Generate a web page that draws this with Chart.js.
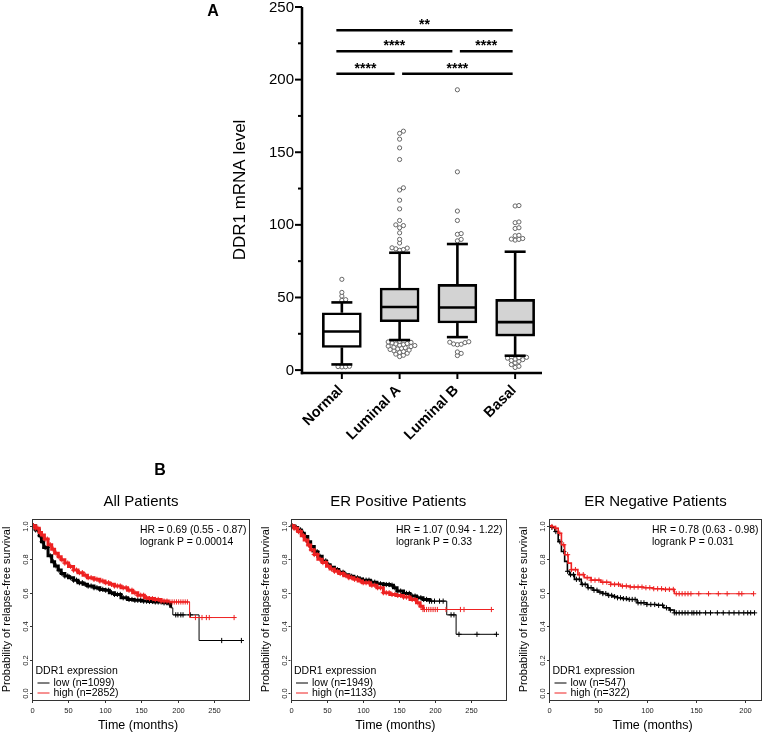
<!DOCTYPE html>
<html><head><meta charset="utf-8">
<script src="https://cdn.jsdelivr.net/npm/chart.js@4/dist/chart.umd.min.js"></script>
<style>
html,body{margin:0;padding:0;background:#fff;}
#wrap{position:relative;width:767px;height:732px;overflow:hidden;background:#fff;}
canvas{position:absolute;}
</style></head><body>
<div id="wrap">
<canvas id="cA" width="767" height="480" style="left:0;top:0;width:767px;height:480px"></canvas>
<canvas id="c1" width="255" height="252" style="left:0;top:480px;width:255px;height:252px"></canvas>
<canvas id="c2" width="256" height="252" style="left:255px;top:480px;width:256px;height:252px"></canvas>
<canvas id="c3" width="256" height="252" style="left:511px;top:480px;width:256px;height:252px"></canvas>
</div>
<script>
// ---------------- Panel A data ----------------
const categories = ['Normal', 'Luminal A', 'Luminal B', 'Basal'];
const boxMin    = [3.9, 20.7, 22.7, 9.9];
const boxQ1     = [15.6, 33.3, 32.4, 23.4];
const boxMedian = [26.6, 43.4, 43.1, 33.0];
const boxQ3     = [39.5, 56.5, 59.0, 48.7];
const boxMax    = [46.6, 80.8, 86.8, 81.5];
const outNormal = [2.2, 2.4, 2.6, 2.3, 48, 48.5, 51, 53.5, 62.5];
const outLumA   = [19.8,19.4,19.1,18.7,18.3,18,17.6,17.2,16.9,16.5,16.2,15.8,15.4,15,14.6,14.2,13.8,13.3,12.8,12.2,11.6,11,10.2,9.3,
                   82.5,83,83.5,84,84.2,87.5,90,94.5,98,99.5,100,103,111,117,124,125.5,145,153,159,163,164.5];
const outLumB   = [19.5,19.2,18.9,18,17.8,17.5,12.5,11.5,10, 89,90,93.5,94,103,109.5,136.5,193];
const outBasal  = [8.8,8.5,8.2,7.6,7.2,6.6,6,5,3.8,2.6,1.8, 89.5,90,90.2,90.6,92.5,92.8,97.5,98,101.5,102,113,113.3];
const yTicksA = [0, 50, 100, 150, 200, 250];
const yMinorTicksA = [25, 75, 125, 175, 225];
const sigFrom   = [0, 1, 0, 2, 0];
const sigTo     = [1, 3, 2, 3, 3];
const sigLabels = ['****', '****', '****', '****', '**'];
const sigLevel  = [204, 204, 219.5, 219.5, 234];

// ---------------- Panel B data ----------------
const survTicks = [0, 0.2, 0.4, 0.6, 0.8, 1.0];
const timeTicks300 = [0, 50, 100, 150, 200, 250];
const timeTicks200 = [0, 50, 100, 150, 200];

// All patients
const allLowT = [0,5,10,13,16,22,27,31,36,40,45,50,57,63,70,76,85,93,100,106,113,122,131,140,150,160,168,180,186,190,193,229,287];
const allLowS = [1.0,0.975,0.94,0.905,0.87,0.82,0.785,0.76,0.735,0.715,0.70,0.69,0.675,0.66,0.65,0.64,0.63,0.62,0.615,0.60,0.59,0.57,0.56,0.555,0.55,0.548,0.545,0.54,0.537,0.51,0.468,0.315,0.315];
const allLowCens = [2,5,8,11,14,18,21,25,29,33,37,41,45,49,53,57,61,65,69,73,77,81,85,89,93,97,101,105,109,113,117,121,125,129,133,137,141,145,149,153,157,161,165,169,173,177,181,185,188,197,200,204,207,217,260,287];
const allHighT = [0,5,10,13,17,22,27,31,36,40,45,50,57,63,70,76,85,93,100,106,113,122,131,138,145,154,160,168,177,186,216,279];
const allHighS = [1.0,0.985,0.96,0.945,0.92,0.886,0.86,0.836,0.815,0.797,0.777,0.757,0.735,0.72,0.705,0.69,0.68,0.67,0.66,0.65,0.64,0.63,0.615,0.60,0.585,0.57,0.565,0.56,0.55,0.545,0.452,0.452];
const allHighCens = [2,5,8,11,14,18,21,25,29,33,37,41,45,49,53,57,61,65,69,73,77,81,85,89,93,97,101,105,109,113,117,121,125,129,133,137,141,145,149,153,157,161,165,169,173,177,181,185,189,192,195,198,201,204,207,210,213,224,233,239,243,277];

// ER positive
const posLowT = [0,5,10,15,19,24,28,33,38,44,50,55,61,67,74,81,88,94,100,111,120,129,138,143,148,157,166,175,184,193,217,230,287];
const posLowS = [1.0,0.99,0.975,0.955,0.935,0.905,0.876,0.845,0.817,0.79,0.767,0.752,0.738,0.722,0.708,0.698,0.689,0.682,0.675,0.663,0.653,0.649,0.645,0.63,0.61,0.596,0.58,0.57,0.56,0.55,0.468,0.352,0.352];
const posLowCens = [2,5,8,11,14,18,21,25,29,33,37,41,45,49,53,57,61,65,69,73,77,81,85,89,93,97,101,105,109,113,117,121,125,129,133,137,141,145,149,153,157,161,165,169,173,177,181,185,189,193,196,200,207,212,223,227,234,259,286];
const posHighT = [0,5,10,15,19,24,28,33,38,44,50,55,61,67,74,81,88,94,100,111,120,129,138,147,157,166,175,180,184,279];
const posHighS = [1.0,0.985,0.965,0.94,0.915,0.885,0.856,0.828,0.80,0.78,0.758,0.742,0.728,0.715,0.702,0.69,0.68,0.67,0.66,0.645,0.63,0.60,0.59,0.584,0.574,0.56,0.54,0.52,0.50,0.50];
const posHighCens = [2,5,8,11,14,18,21,25,29,33,37,41,45,49,53,57,61,65,69,73,77,81,85,89,93,97,101,105,109,113,117,121,125,129,133,137,141,145,149,153,157,161,165,169,173,177,181,184,186,189,192,195,198,201,204,216,236,241,279];

// ER negative
const negLowT = [0,3,6,9.4,12.7,16,18.8,21,26,33,39.5,45,50,55,60,65,70,75,80,90,100,110,117,123,128,210];
const negLowS = [1.0,0.99,0.965,0.905,0.846,0.787,0.728,0.708,0.68,0.65,0.63,0.615,0.604,0.595,0.584,0.577,0.57,0.565,0.56,0.54,0.53,0.525,0.51,0.497,0.48,0.48];
const negLowCens = [3,7,11,15,19,22,25,28,31,34,37,40,43,46,49,52,55,58,61,64,67,70,73,76,79,82,85,88,91,94,97,100,104,108,112,116,120,124,128,130,133,136,139,142,146,148,151,154,160,165,172,178,184,189,194,199,203,206,210];
const negHighT = [0,3,6,9.4,12.7,16,19.5,22.8,29.5,36,43,53,63,73,83,96.5,106.5,116.6,128,209];
const negHighS = [1.0,0.995,0.985,0.955,0.886,0.827,0.777,0.738,0.708,0.69,0.675,0.663,0.65,0.64,0.634,0.63,0.624,0.62,0.594,0.594];
const negHighCens = [3,7,11,15,19,23,27,31,35,39,43,47,51,55,59,63,67,71,75,79,83,87,91,95,99,103,107,111,115,119,123,127,130,133,136,139,142,145,153,163,173,182,194,197,209];

// ---------------- common ----------------
const FONT = 'Arial, "Liberation Sans", Helvetica, sans-serif';
const RED = '#ee2222', BLACK = '#000000';

// ---------------- Panel A ----------------
const A_AREA = {left: 302, right: 542, top: 7, bottom: 373};
const A_H = 480;
const A_XMIN = -0.69, A_XMAX = 3.465, A_YMIN = -2, A_YMAX = 250;
const PX_PER_X = (A_AREA.right - A_AREA.left) / (A_XMAX - A_XMIN);
const PX_PER_Y = (A_AREA.bottom - A_AREA.top) / (A_YMAX - A_YMIN);
const BOX_W = 39, CAP_W = 21, SW_DIAM = 3.6, SW_STEP = 1.9;

function swarm(vals) {
  const placed = [];
  [...vals].sort((a, b) => a - b).forEach(v => {
    for (let k = 0; k < 80; k++) {
      const off = (k === 0 ? 0 : (k % 2 ? 1 : -1) * Math.ceil(k / 2)) * SW_STEP;
      if (placed.every(p => Math.hypot(p.o - off, (p.v - v) * PX_PER_Y) >= SW_DIAM)) {
        placed.push({o: off, v}); break;
      }
    }
  });
  return placed;
}
const outlierPoints = [];
[outNormal, outLumA, outLumB, outBasal].forEach((arr, i) => {
  swarm(arr).forEach(p => outlierPoints.push({x: i + p.o / PX_PER_X, y: p.v}));
});

function line(ctx, x1, y1, x2, y2) { ctx.beginPath(); ctx.moveTo(x1, y1); ctx.lineTo(x2, y2); ctx.stroke(); }

const boxDeco = {
  id: 'boxDeco',
  afterDatasetsDraw(chart) {
    const {ctx, scales: {x, y}} = chart;
    ctx.save();
    ctx.strokeStyle = '#000'; ctx.lineWidth = 2.6; ctx.lineCap = 'butt';
    categories.forEach((c, i) => {
      const cx = x.getPixelForValue(i);
      const yq1 = y.getPixelForValue(boxQ1[i]), yq3 = y.getPixelForValue(boxQ3[i]);
      const ymn = y.getPixelForValue(boxMin[i]), ymx = y.getPixelForValue(boxMax[i]);
      const ymd = y.getPixelForValue(boxMedian[i]);
      line(ctx, cx, yq3, cx, ymx);
      line(ctx, cx - CAP_W / 2, ymx, cx + CAP_W / 2, ymx);
      line(ctx, cx, yq1, cx, ymn);
      line(ctx, cx - CAP_W / 2, ymn, cx + CAP_W / 2, ymn);
      line(ctx, cx - BOX_W / 2 + 1, ymd, cx + BOX_W / 2 - 1, ymd);
    });
    ctx.restore();
  },
  afterDraw(chart) {
    const {ctx, scales: {x, y}, chartArea: a} = chart;
    ctx.save();
    ctx.strokeStyle = '#000'; ctx.fillStyle = '#000';
    // axes
    ctx.lineWidth = 2.5;
    line(ctx, a.left, a.top, a.left, a.bottom + 1.2);
    line(ctx, a.left - 1.2, a.bottom, a.right, a.bottom);
    ctx.lineWidth = 2;
    yTicksA.forEach(v => { const py = y.getPixelForValue(v); line(ctx, a.left - 7, py, a.left, py); });
    yMinorTicksA.forEach(v => { const py = y.getPixelForValue(v); line(ctx, a.left - 4, py, a.left, py); });
    categories.forEach((c, i) => { const px = x.getPixelForValue(i); line(ctx, px, a.bottom, px, a.bottom + 6); });
    // y tick labels
    ctx.font = '15px ' + FONT; ctx.textAlign = 'right'; ctx.textBaseline = 'middle';
    yTicksA.forEach(v => ctx.fillText(String(v), a.left - 8, y.getPixelForValue(v) + 0.5));
    // category labels
    ctx.font = 'bold 14.5px ' + FONT;
    categories.forEach((c, i) => {
      const px = x.getPixelForValue(i);
      ctx.save(); ctx.translate(px - 1, a.bottom + 15); ctx.rotate(-Math.PI / 4);
      ctx.textAlign = 'right'; ctx.textBaseline = 'middle'; ctx.fillText(c, 0, 0); ctx.restore();
    });
    // y title
    ctx.save(); ctx.translate(240, 190); ctx.rotate(-Math.PI / 2);
    ctx.font = '17px ' + FONT; ctx.textAlign = 'center'; ctx.textBaseline = 'middle';
    ctx.fillText('DDR1 mRNA level', 0, 0); ctx.restore();
    // significance bars
    ctx.lineWidth = 2.4;
    ctx.font = 'bold 14px ' + FONT; ctx.textAlign = 'center'; ctx.textBaseline = 'alphabetic';
    sigFrom.forEach((f, k) => {
      const t = sigTo[k];
      const shareStart = sigTo.some((tt, j) => j !== k && sigLevel[j] === sigLevel[k] && tt === f);
      const shareEnd = sigFrom.some((ff, j) => j !== k && sigLevel[j] === sigLevel[k] && ff === t);
      const x1 = x.getPixelForValue(f) + (shareStart ? 2.5 : -5.5);
      const x2 = x.getPixelForValue(t) + (shareEnd ? -5 : -2.5);
      const py = y.getPixelForValue(sigLevel[k]);
      line(ctx, x1, py, x2, py);
      ctx.fillText(sigLabels[k], (x1 + x2) / 2, py - 1);
    });
    // panel letters
    ctx.font = 'bold 16px ' + FONT; ctx.textAlign = 'center'; ctx.textBaseline = 'middle';
    ctx.fillText('A', 213, 12);
    ctx.fillText('B', 160, 471);
    ctx.restore();
  }
};

new Chart(document.getElementById('cA'), {
  type: 'bar',
  data: {
    datasets: [
      {type: 'scatter', data: outlierPoints, pointRadius: 2.1, pointBorderColor: '#666', pointBackgroundColor: '#fff', pointBorderWidth: 1},
      {type: 'bar', data: categories.map((c, i) => ({x: i, y: [boxQ1[i], boxQ3[i]]})),
       backgroundColor: categories.map((c, i) => i === 0 ? '#ffffff' : '#d3d3d3'),
       borderColor: '#000', borderWidth: 2.6, borderSkipped: false, barThickness: BOX_W}
    ]
  },
  options: {
    responsive: false, animation: false, events: [],
    layout: {padding: {left: A_AREA.left, right: 767 - A_AREA.right, top: A_AREA.top, bottom: A_H - A_AREA.bottom}},
    plugins: {legend: {display: false}, tooltip: {enabled: false}},
    scales: {
      x: {type: 'linear', display: false, offset: false, min: A_XMIN, max: A_XMAX},
      y: {type: 'linear', display: false, min: A_YMIN, max: A_YMAX}
    }
  },
  plugins: [boxDeco]
});

// ---------------- Panel B ----------------
function stepAt(t, ts, ss) {
  let v = ss[0];
  for (let i = 0; i < ts.length; i++) { if (ts[i] <= t) v = ss[i]; else break; }
  return v;
}

function makeKM(id, cfg) {
  const ds = [];
  [[cfg.high, RED, cfg.denseHigh], [cfg.low, BLACK, cfg.denseLow]].forEach(([ser, col, dense]) => {
    ds.push({data: ser.c.map(t => ({x: t, y: stepAt(t, ser.t, ser.s)})), showLine: false,
      pointStyle: 'cross', pointRadius: 2.6, pointBorderColor: col, pointBackgroundColor: col, pointBorderWidth: 1, borderColor: col});
    ds.push({data: ser.t.map((t, i) => ({x: t, y: ser.s[i]})), showLine: true, stepped: true,
      borderColor: col, borderWidth: 1, pointRadius: 0, fill: false,
      segment: {borderWidth: c => c.p1.parsed.x <= dense ? cfg.denseWidth : 1}});
  });
  const deco = {
    id: 'kmDeco',
    afterDraw(chart) {
      const {ctx, scales: {x, y}, chartArea: a} = chart;
      const cx = (a.left + a.right) / 2;
      ctx.save();
      ctx.strokeStyle = '#333'; ctx.fillStyle = '#000'; ctx.lineWidth = 1;
      ctx.strokeRect(Math.round(a.left) + 0.5, Math.round(a.top) + 0.5, Math.round(a.right - a.left) - 1, Math.round(a.bottom - a.top));
      // x ticks
      ctx.font = '7.5px ' + FONT; ctx.textAlign = 'center'; ctx.textBaseline = 'middle'; ctx.fillStyle = '#222';
      cfg.xTicks.forEach(v => {
        const px = Math.round(x.getPixelForValue(v)) + 0.5;
        line(ctx, px, a.bottom, px, a.bottom + 3);
        ctx.fillText(String(v), px, a.bottom + 11);
      });
      // y ticks
      survTicks.forEach(v => {
        const py = Math.round(y.getPixelForValue(v)) + 0.5;
        line(ctx, a.left - 2, py, a.left, py);
        ctx.save(); ctx.translate(a.left - 6, py); ctx.rotate(-Math.PI / 2);
        ctx.fillText(v.toFixed(1), 0, 0); ctx.restore();
      });
      ctx.fillStyle = '#000';
      // axis titles
      ctx.font = '12.5px ' + FONT;
      ctx.fillText('Time (months)', cx - 3, a.bottom + 26);
      ctx.save(); ctx.translate(a.left - 25, (a.top + a.bottom) / 2); ctx.rotate(-Math.PI / 2);
      ctx.font = '11px ' + FONT; ctx.fillText('Probability of relapse-free survival', 0, 0); ctx.restore();
      // title
      ctx.font = '15px ' + FONT;
      ctx.fillText(cfg.title, cx, a.top - 17);
      // HR text
      ctx.font = '10.4px ' + FONT; ctx.textAlign = 'left';
      ctx.fillText(cfg.hr, a.right - 110, a.top + 11);
      ctx.fillText(cfg.p, a.right - 110, a.top + 23);
      // legend
      ctx.font = '10.5px ' + FONT;
      ctx.fillText('DDR1 expression', a.left + 3.5, a.bottom - 29);
      ctx.fillText(cfg.lowLabel, a.left + 21.5, a.bottom - 17);
      ctx.fillText(cfg.highLabel, a.left + 21.5, a.bottom - 7);
      ctx.lineWidth = 1;
      ctx.strokeStyle = BLACK; line(ctx, a.left + 5.5, a.bottom - 17, a.left + 17.5, a.bottom - 17);
      ctx.strokeStyle = RED; line(ctx, a.left + 5.5, a.bottom - 7, a.left + 17.5, a.bottom - 7);
      ctx.restore();
    }
  };
  new Chart(document.getElementById(id), {
    type: 'scatter',
    data: {datasets: ds},
    options: {
      responsive: false, animation: false, events: [],
      layout: {padding: cfg.pad},
      plugins: {legend: {display: false}, tooltip: {enabled: false}},
      scales: {
        x: {type: 'linear', display: false, min: 0, max: cfg.xMax},
        y: {type: 'linear', display: false, min: -0.04, max: 1.04}
      }
    },
    plugins: [deco]
  });
}

makeKM('c1', {
  title: 'All Patients', hr: 'HR = 0.69 (0.55 - 0.87)', p: 'logrank P = 0.00014',
  lowLabel: 'low (n=1099)', highLabel: 'high (n=2852)',
  low: {t: allLowT, s: allLowS, c: allLowCens}, high: {t: allHighT, s: allHighS, c: allHighCens},
  denseLow: 190, denseHigh: 186, denseWidth: 3,
  xMax: 298.8, xTicks: timeTicks300, pad: {left: 32, right: 4.3, top: 39, bottom: 32}
});
makeKM('c2', {
  title: 'ER Positive Patients', hr: 'HR = 1.07 (0.94 - 1.22)', p: 'logrank P = 0.33',
  lowLabel: 'low (n=1949)', highLabel: 'high (n=1133)',
  low: {t: posLowT, s: posLowS, c: posLowCens}, high: {t: posHighT, s: posHighS, c: posHighCens},
  denseLow: 193, denseHigh: 184, denseWidth: 3,
  xMax: 299.3, xTicks: timeTicks300, pad: {left: 35.5, right: 2, top: 39, bottom: 32}
});
makeKM('c3', {
  title: 'ER Negative Patients', hr: 'HR = 0.78 (0.63 - 0.98)', p: 'logrank P = 0.031',
  lowLabel: 'low (n=547)', highLabel: 'high (n=322)',
  low: {t: negLowT, s: negLowS, c: negLowCens}, high: {t: negHighT, s: negHighS, c: negHighCens},
  denseLow: 128, denseHigh: 128, denseWidth: 1.6,
  xMax: 217.6, xTicks: timeTicks200, pad: {left: 38, right: 1.5, top: 39, bottom: 32}
});
</script>
</body></html>
